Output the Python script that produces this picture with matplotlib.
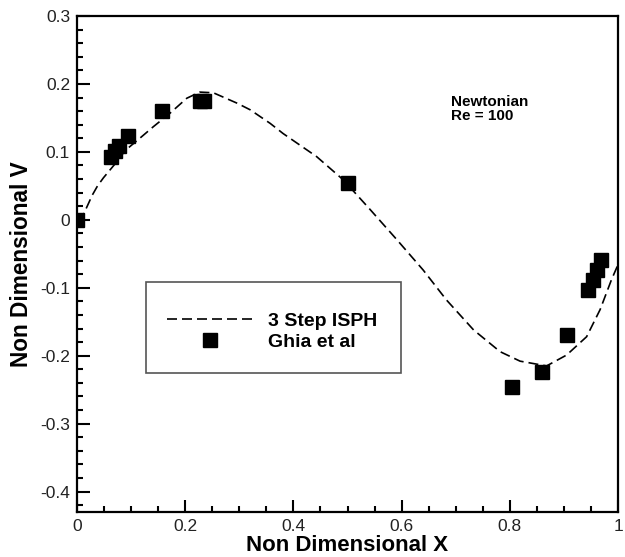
import matplotlib
matplotlib.use("Agg")
import matplotlib.pyplot as plt
from matplotlib.patches import Rectangle
from matplotlib.ticker import MultipleLocator, FuncFormatter

plt.rcParams['font.family'] = ['Liberation Sans', 'DejaVu Sans']
plt.rcParams['axes.unicode_minus'] = False

# 3 Step ISPH (dashed curve)
isph_x = [0.0, 0.012, 0.020, 0.028, 0.038, 0.049, 0.070, 0.089, 0.116, 0.141,
          0.172, 0.203, 0.227, 0.252, 0.295, 0.320, 0.357, 0.381, 0.443, 0.492,
          0.542, 0.591, 0.640, 0.683, 0.733, 0.782, 0.819, 0.868, 0.905, 0.942,
          0.967, 0.988, 1.0]
isph_y = [0.0, 0.008, 0.022, 0.036, 0.050, 0.062, 0.082, 0.102, 0.120, 0.137,
          0.157, 0.179, 0.188, 0.187, 0.172, 0.162, 0.142, 0.127, 0.093, 0.059,
          0.015, -0.029, -0.074, -0.118, -0.162, -0.194, -0.208, -0.215, -0.199,
          -0.172, -0.132, -0.088, -0.066]

# Ghia et al reference points
ghia_x = [0.0, 0.0625, 0.0703, 0.0781, 0.0938, 0.1563, 0.2266, 0.2344, 0.5,
          0.8047, 0.8594, 0.9063, 0.9453, 0.9531, 0.9609, 0.9688]
ghia_y = [0.0, 0.0923, 0.1009, 0.1089, 0.1232, 0.1608, 0.1751, 0.1753, 0.0545,
          -0.2453, -0.2245, -0.1691, -0.1031, -0.0886, -0.0739, -0.0591]

fig = plt.figure(figsize=(6.25, 5.57), dpi=100)
ax = fig.add_axes([77 / 625, 1 - 512 / 557, 541 / 625, 496 / 557])

ax.plot(isph_x, isph_y, color='black', lw=1.2, dashes=(6, 3), label='3 Step ISPH')
ax.plot(ghia_x, ghia_y, ls='none', marker='s', ms=9.5, color='black', label='Ghia et al')

ax.set_xlim(0, 1)
ax.set_ylim(-0.43, 0.3)
ax.xaxis.set_major_locator(MultipleLocator(0.2))
ax.xaxis.set_minor_locator(MultipleLocator(0.05))
ax.yaxis.set_major_locator(MultipleLocator(0.1))
ax.yaxis.set_minor_locator(MultipleLocator(0.02))
fmt = FuncFormatter(lambda v, p: f"{round(v, 3):g}")
ax.xaxis.set_major_formatter(fmt)
ax.yaxis.set_major_formatter(fmt)
ax.tick_params(which='both', direction='in', top=False, right=False,
               labelsize=12.5, labelcolor='#222222', width=1.5)
ax.tick_params(which='major', length=9, pad=5)
ax.tick_params(which='minor', length=4)
for s in ax.spines.values():
    s.set_linewidth(1.6)

ax.set_xlabel('Non Dimensional X', fontsize=16, fontweight='bold')
ax.set_ylabel('Non Dimensional V', fontsize=16.3, fontweight='bold')
ax.xaxis.set_label_coords(0.5, -0.047)
ax.yaxis.set_label_coords(-0.081, 0.5)

ax.text(0.691, 0.184, 'Newtonian\nRe = 100', fontsize=11, fontweight='bold',
        va='top', ha='left', linespacing=1.0)

# legend box drawn by hand, legend itself without frame
fig.patches.append(Rectangle((146 / 625, 1 - 373 / 557), 255 / 625, 91 / 557,
                             transform=fig.transFigure, fill=False,
                             edgecolor='#555555', lw=1.2))
ax.legend(loc='center', bbox_to_anchor=(272 / 625, 1 - 331.5 / 557),
          bbox_transform=fig.transFigure, frameon=False, numpoints=1,
          handlelength=4.4, handletextpad=0.77, labelspacing=0.15,
          borderpad=0, prop={'weight': 'bold', 'size': 14})

fig.savefig('out.png', dpi=100)
